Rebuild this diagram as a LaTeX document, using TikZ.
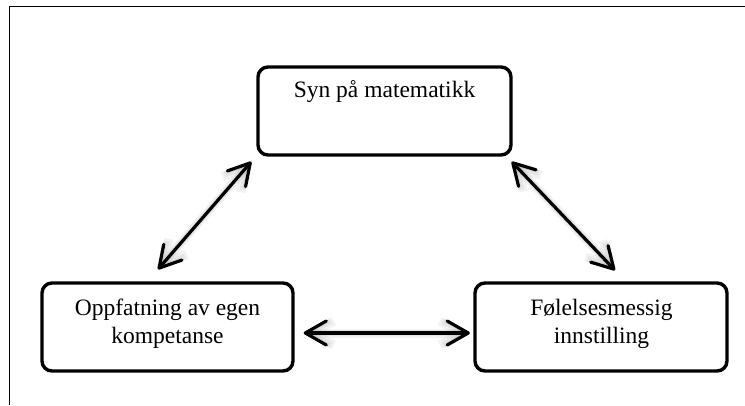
\documentclass[tikz,border=0pt]{standalone}
\usepackage{fontspec}
\setmainfont{Liberation Serif}
\usetikzlibrary{arrows.meta,calc}
\begin{document}
\begin{tikzpicture}[x=1pt,y=-1pt,
  box/.style={draw=black, line width=3.4pt, rounded corners=10pt, fill=white,
    minimum width=#1, minimum height=88pt, inner sep=0pt},
  box/.default=252pt,
  label/.style={font=\fontsize{23.5}{28}\selectfont, align=center, inner sep=0pt},
  arr/.style={line width=3.2pt, line cap=round, line join=round,
    {Straight Barb[length=21pt,width=24pt,line join=round,line cap=round]}-{Straight Barb[length=21pt,width=24pt,line join=round,line cap=round]}},
  shade/.style={line width=#1, draw=black, opacity=0.05, line cap=round,
    {Straight Barb[length=21pt,width=24pt]}-{Straight Barb[length=21pt,width=24pt]}}
]
  \useasboundingbox (0,0) rectangle (745,405);
  % outer frame (top and left edges)
  \draw[line width=1.8pt] (9.5,405) -- (9.5,6.5) -- (745,6.5);

  % boxes
  \node[box=253pt] (tbox) at (384.5,111) {};
  \node[box=251pt] (lbox) at (167.5,327) {};
  \node[box=252pt] (rbox) at (601,327) {};

  % texts
  \node[label] (ttext) at (384.5,92) {Syn på matematikk};
  \node[label] (ltext) at (167.5,324) {Oppfatning av egen\\kompetanse};
  \node[label] (rtext) at (601.5,324) {Følelsesmessig\\innstilling};

  % soft shadows under the connectors
  \begin{scope}[shift={(2,4)}]
    \foreach \w in {9pt,6pt,3.5pt}{
      \draw[shade=\w] ($(lbox.north)+(-9.5,-12)$) -- ($(tbox.south west)+(-5,5)$);
      \draw[shade=\w] ($(tbox.south east)+(-1,5)$) -- ($(rbox.north)+(14,-11)$);
      \draw[shade=\w] ($(lbox.east)+(9,6)$) -- ($(rbox.west)+(-3.5,6)$);
    }
  \end{scope}

  % connectors
  \draw[arr] ($(lbox.north)+(-9.5,-12)$) -- ($(tbox.south west)+(-5,5)$);
  \draw[arr] ($(tbox.south east)+(-1,5)$) -- ($(rbox.north)+(14,-11)$);
  \draw[arr] ($(lbox.east)+(9,6)$) -- ($(rbox.west)+(-3.5,6)$);
\end{tikzpicture}
\end{document}
